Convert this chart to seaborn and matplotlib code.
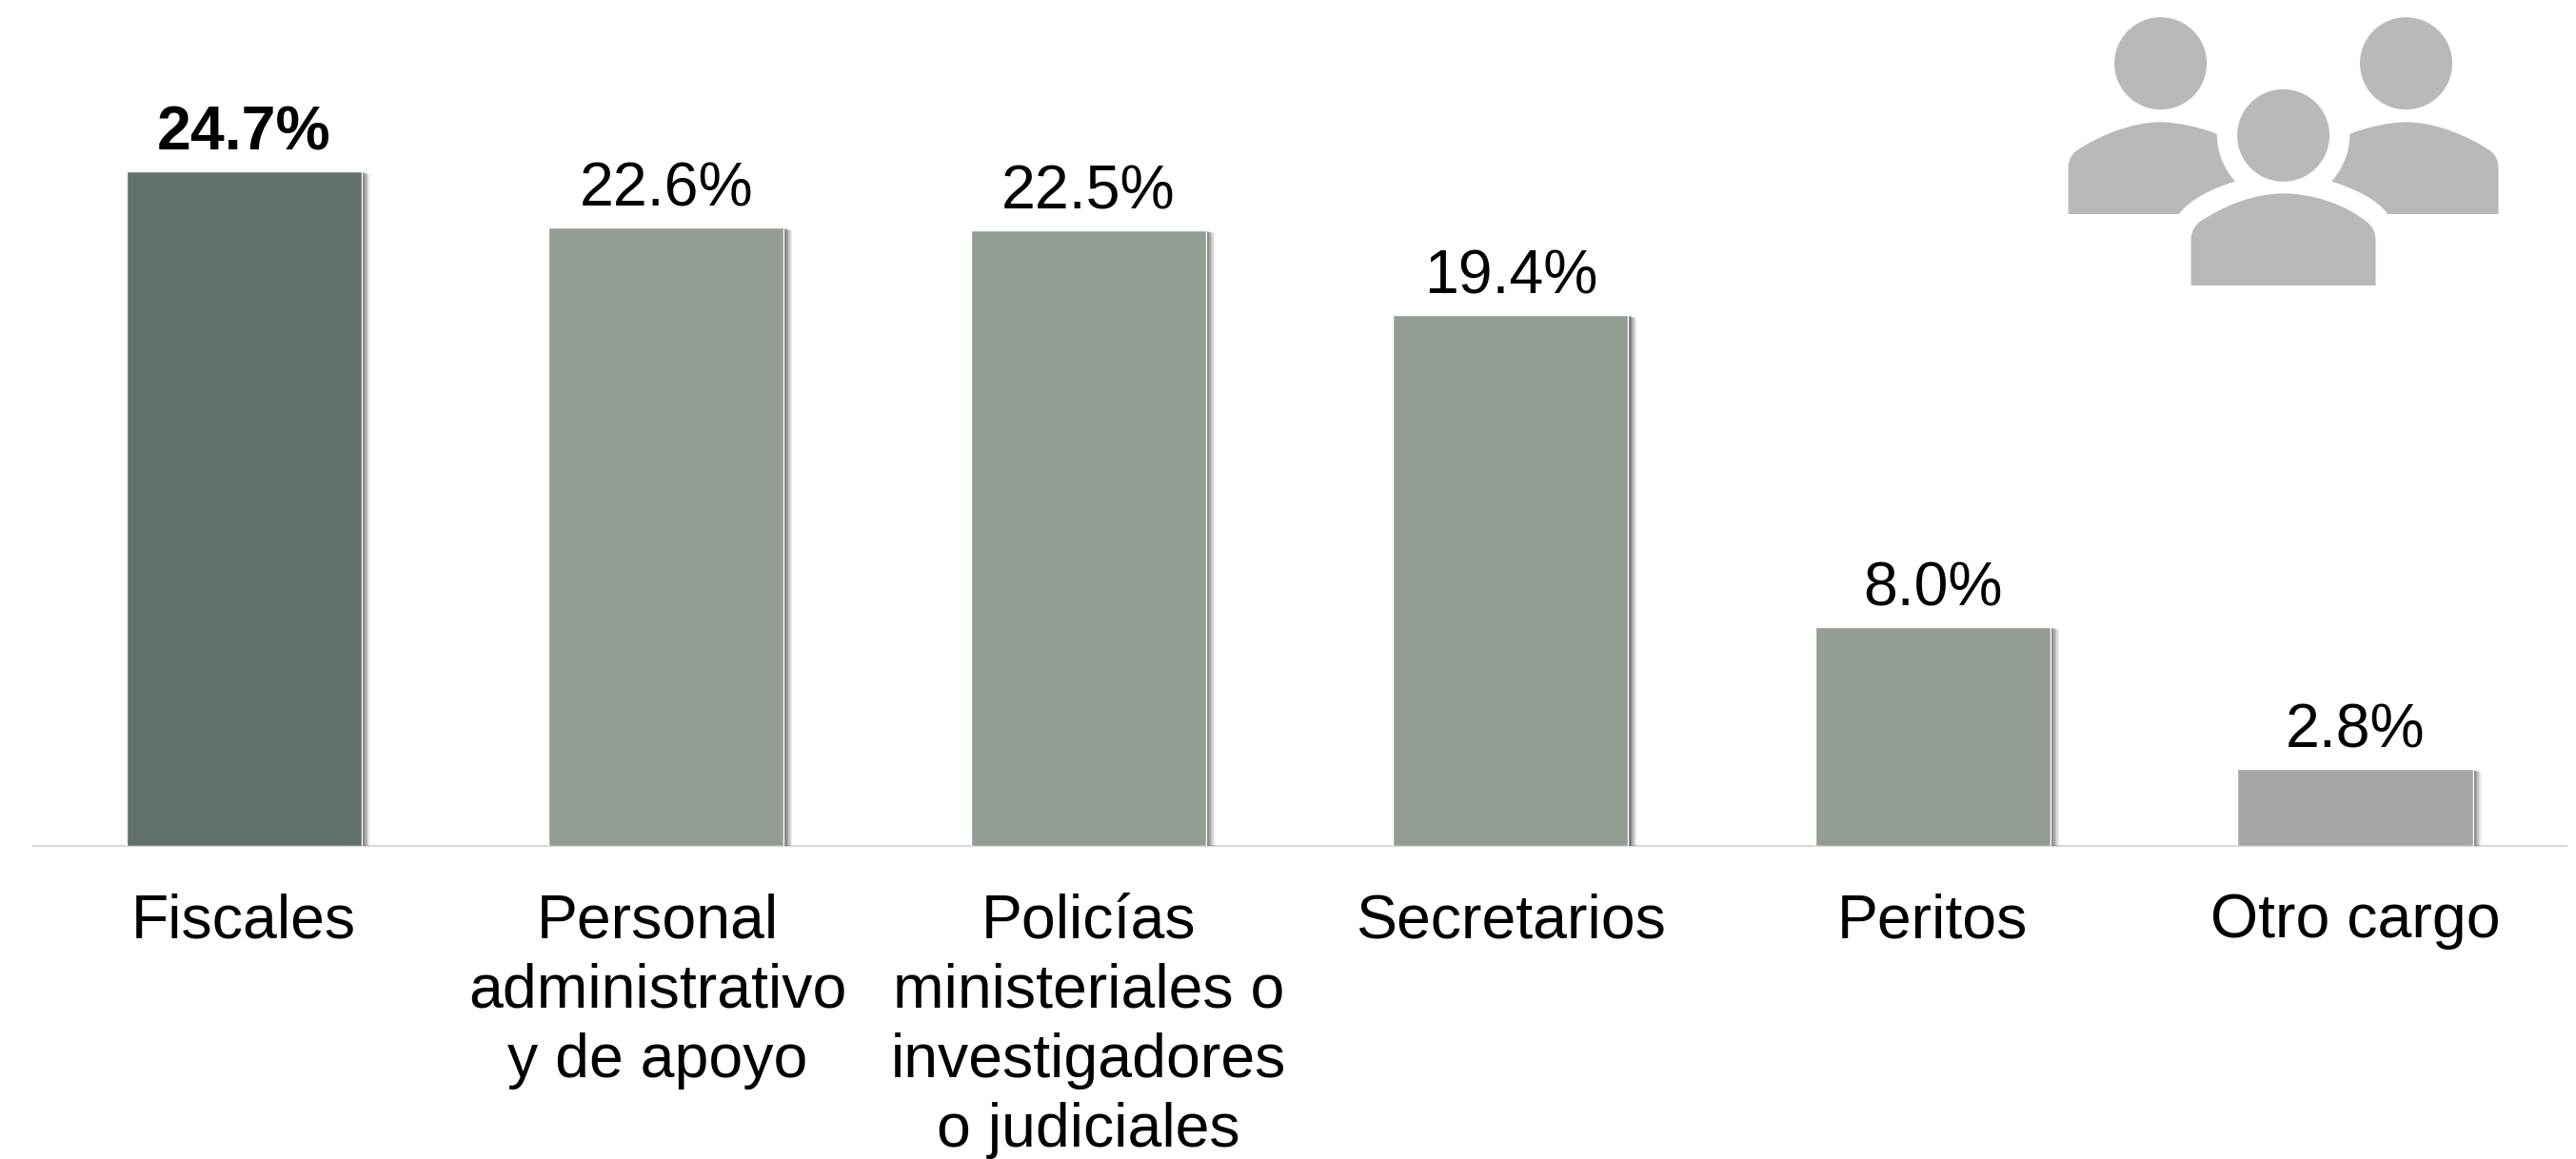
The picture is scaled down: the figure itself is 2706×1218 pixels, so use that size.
#! /usr/bin/env python3
import matplotlib
matplotlib.use("Agg")
import matplotlib.pyplot as plt
import matplotlib.patheffects as pe
from matplotlib.patches import Circle, PathPatch
from matplotlib.path import Path
from matplotlib.transforms import ScaledTranslation
import pandas as pd
import seaborn as sns

categories = ["Fiscales", "Personal\nadministrativo\ny de apoyo",
              "Policías\nministeriales o\ninvestigadores\no judiciales",
              "Secretarios", "Peritos", "Otro cargo"]
values = [24.65, 22.6, 22.5, 19.4, 8.0, 2.8]
value_labels = ["24.7%", "22.6%", "22.5%", "19.4%", "8.0%", "2.8%"]
bar_colors = ["#63716B", "#949D93", "#949D93", "#949D93", "#949D93", "#A6A6A6"]
ICON = "#B9B9B9"


def shadow():
    # soft shadow to the lower right of the bars
    effects = []
    for off, alpha in [(6.5, 0.08), (5.5, 0.12), (4.5, 0.16), (3.5, 0.2), (2.5, 0.25), (1.5, 0.3)]:
        effects.append(pe.SimplePatchShadow(offset=(off, -off * 0.3), shadow_rgbFace="#404040", alpha=alpha))
    effects.append(pe.Normal())
    return effects


def body(points):
    codes = [Path.MOVETO]
    verts = [points[0]]
    for kind, pts in points[1:]:
        verts.extend(pts)
        codes.extend({"L": [Path.LINETO], "C": [Path.CURVE4] * 3}[kind])
    verts.append(verts[0])
    codes.append(Path.CLOSEPOLY)
    return Path(verts, codes)


def draw_icon(fig):
    # icon traced in pixels of the reference
    ax = fig.add_axes([0, 0, 1, 1], zorder=5)
    ax.set_xlim(0, 2706)
    ax.set_ylim(1218, 0)
    ax.axis("off")
    ax.patch.set_alpha(0)

    def px(x, y):
        return (2130 + x * 0.3674, y / 3)

    for cx, cy in [(380, 200), (1082, 200), (731, 427)]:
        ax.add_patch(Circle(px(cx, cy), 48.5, fc=ICON, ec="none"))

    def p(*pts):
        return [px(*q) for q in pts]

    left = [px(116, 675),
            ("L", p((116, 530))),
            ("C", p((116, 505), (125, 487), (140, 475))),
            ("C", p((200, 430), (295, 385), (380, 385))),
            ("C", p((430, 385), (500, 403), (541, 423))),
            ("C", p((541, 480), (560, 530), (593, 572))),
            ("C", p((530, 593), (460, 630), (433, 675)))]
    mirror = lambda pts: [(1462 - x, y) for x, y in pts]
    right = [px(1346, 675),
             ("L", p((1346, 530))),
             ("C", p(*mirror([(116, 505), (125, 487), (140, 475)]))),
             ("C", p(*mirror([(200, 430), (295, 385), (380, 385)]))),
             ("C", p(*mirror([(430, 385), (500, 403), (541, 423)]))),
             ("C", p(*mirror([(541, 480), (560, 530), (593, 572)]))),
             ("C", p(*mirror([(530, 593), (460, 630), (433, 675)])))]
    center = [px(467, 900),
              ("L", p((467, 755))),
              ("C", p((467, 730), (478, 710), (495, 697))),
              ("C", p((560, 650), (645, 610), (731, 610))),
              ("C", p((815, 610), (910, 645), (970, 700))),
              ("C", p((985, 713), (995, 733), (995, 755))),
              ("L", p((995, 900)))]
    for shape in (left, right, center):
        ax.add_patch(PathPatch(body(shape), fc=ICON, ec="none"))


def main():
    sns.set_theme(style="white")
    plt.rcParams["font.family"] = ["Liberation Sans", "DejaVu Sans"]

    fig = plt.figure(figsize=(27.06, 12.18), dpi=100)
    axes = fig.add_axes([34.5 / 2706, 329 / 1218, (2697 - 35.75) / 2706, 889 / 1218])

    data = pd.DataFrame({"cargo": categories, "pct": values})
    sns.barplot(data=data, x="cargo", y="pct", hue="cargo", palette=bar_colors,
                dodge=False, legend=False, width=0.557, saturation=1, ax=axes)

    axes.set_xlim(-0.5, 5.5)
    axes.set_ylim(0, 30.92)
    axes.set(xlabel="", ylabel="")
    axes.set_yticks([])
    for side in ["top", "left", "right"]:
        axes.spines[side].set_visible(False)
    axes.spines["bottom"].set_color("#D9D9D9")
    axes.spines["bottom"].set_linewidth(1.5)
    axes.spines["bottom"].set_zorder(0.5)
    axes.tick_params(axis="x", length=0, pad=35.5, labelsize=46.4, colors="black")
    for i, label in enumerate(axes.get_xticklabels()):
        label.set_linespacing(1.28)
        if i == 1:
            # this label sits a little left of its bar
            label.set_transform(label.get_transform() + ScaledTranslation(-0.09, 0, fig.dpi_scale_trans))

    for i, cont in enumerate(axes.containers):
        for bar in cont:
            bar.set_path_effects(shadow())
        axes.bar_label(cont, labels=[value_labels[i]], padding=7,
                       fontsize=46.4, color="black",
                       fontweight="bold" if i == 0 else "normal")

    draw_icon(fig)
    fig.savefig("out.png", dpi=100, facecolor="white")


if __name__ == "__main__":
    main()
